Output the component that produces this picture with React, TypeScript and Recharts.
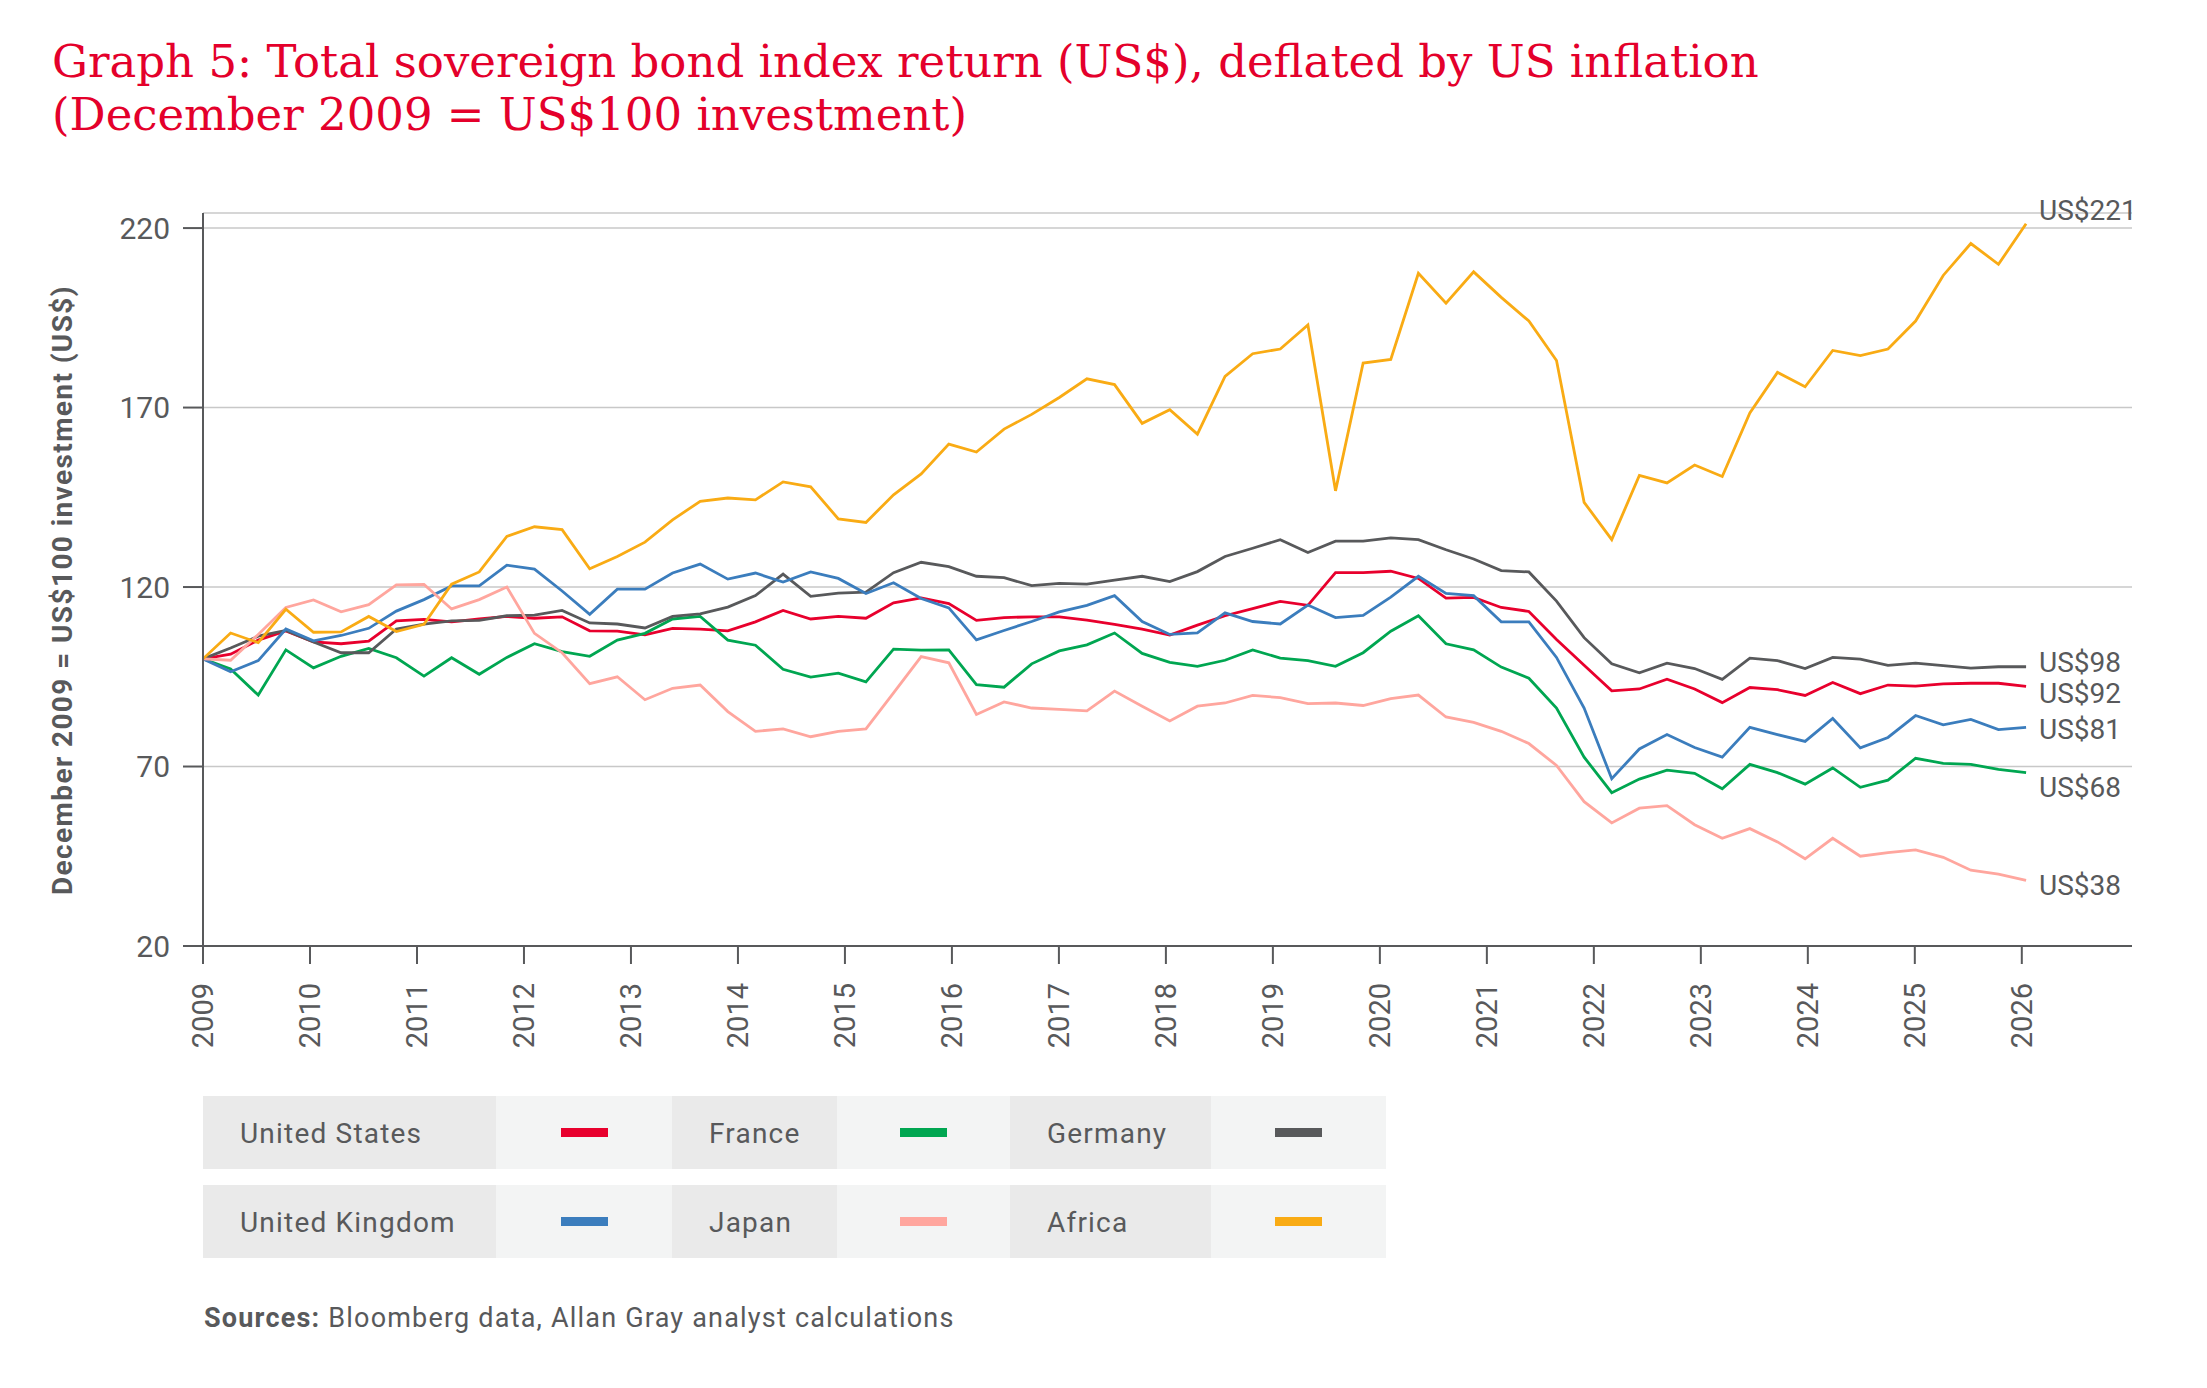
import React from 'react';
import { LineChart, Line, XAxis, YAxis, CartesianGrid } from 'recharts';

// quarterly index levels, December 2009 = 100
const unitedStates = [
  100, 101.3, 105.2, 107.8, 104.7, 104.2, 104.9, 110.6, 111.0, 110.3, 111.1, 111.8, 111.3, 111.7, 107.8, 107.7, 106.7,
  108.5, 108.3, 107.8, 110.3, 113.5, 111.1, 111.8, 111.3, 115.6, 117.0, 115.4, 110.7, 111.5, 111.7, 111.7, 110.8, 109.6,
  108.3, 106.6, 109.4, 112.0, 114.0, 116.0, 114.9, 124.0, 124.0, 124.4, 122.4, 116.9, 117.1, 114.3, 113.2, 105.4, 98.2,
  91.1, 91.6, 94.3, 91.6, 87.8, 92.0, 91.4, 89.8, 93.4, 90.3, 92.7, 92.4, 93.0, 93.2, 93.2, 92.3,
];
const france = [
  100, 97.2, 89.9, 102.5, 97.5, 100.7, 102.9, 100.3, 95.2, 100.3, 95.7, 100.4, 104.2, 102.0, 100.7, 105.2, 107.1,
  111.1, 111.8, 105.2, 103.8, 97.1, 94.9, 96.0, 93.6, 102.7, 102.4, 102.5, 92.8, 92.1, 98.6, 102.2, 103.9, 107.2,
  101.5, 99.0, 97.9, 99.6, 102.5, 100.2, 99.5, 97.9, 101.7, 107.7, 112.0, 104.2, 102.5, 97.7, 94.6, 86.3, 72.6,
  62.7, 66.5, 69.0, 68.1, 63.8, 70.6, 68.3, 65.1, 69.6, 64.2, 66.2, 72.3, 70.9, 70.6, 69.2, 68.3,
];
const germany = [
  100, 103.0, 106.3, 107.9, 104.7, 101.7, 101.7, 108.3, 109.7, 110.6, 110.7, 112.0, 112.2, 113.5, 110.0, 109.7, 108.6,
  111.8, 112.5, 114.4, 117.6, 123.6, 117.4, 118.3, 118.6, 124.0, 126.9, 125.7, 123.0, 122.6, 120.4, 121.0, 120.8, 121.9,
  123.0, 121.5, 124.3, 128.5, 130.8, 133.2, 129.6, 132.8, 132.8, 133.7, 133.2, 130.4, 127.8, 124.6, 124.2, 116.1, 105.9,
  98.6, 96.1, 98.8, 97.3, 94.3, 100.2, 99.5, 97.3, 100.4, 99.9, 98.2, 98.8, 98.1, 97.4, 97.8, 97.8,
];
const unitedKingdom = [
  100, 96.4, 99.5, 108.3, 105.0, 106.5, 108.5, 113.3, 116.5, 120.3, 120.3, 126.1, 125.0, 118.9, 112.4, 119.4, 119.4,
  123.9, 126.4, 122.2, 123.9, 121.4, 124.2, 122.4, 118.2, 121.2, 116.8, 114.2, 105.3, 107.9, 110.4, 113.1, 114.9, 117.6,
  110.4, 106.8, 107.2, 112.8, 110.4, 109.7, 115.0, 111.5, 112.1, 117.2, 123.0, 118.2, 117.6, 110.3, 110.3, 100.4, 86.3,
  66.6, 74.9, 78.9, 75.3, 72.6, 80.9, 78.9, 77.0, 83.4, 75.2, 78.1, 84.2, 81.6, 83.1, 80.3, 80.9,
];
const japan = [
  100, 99.6, 106.8, 114.3, 116.4, 113.1, 115.1, 120.6, 120.7, 113.9, 116.5, 120.0, 107.1, 101.7, 93.1, 95.0, 88.6,
  91.8, 92.7, 85.3, 79.8, 80.5, 78.3, 79.8, 80.5, 90.5, 100.6, 98.9, 84.5, 88.0, 86.3, 85.9, 85.5, 91.0,
  86.8, 82.7, 86.8, 87.7, 89.8, 89.2, 87.5, 87.7, 87.0, 88.9, 89.9, 83.8, 82.3, 79.8, 76.4, 70.3, 60.2,
  54.3, 58.4, 59.1, 53.8, 50.0, 52.7, 49.0, 44.3, 50.0, 45.0, 46.0, 46.8, 44.7, 41.1, 40.0, 38.3,
];
const africa = [
  100, 107.2, 104.5, 113.8, 107.4, 107.5, 111.8, 107.6, 109.6, 120.8, 124.2, 134.1, 136.8, 136.0, 125.1, 128.5, 132.5,
  138.7, 143.9, 144.8, 144.3, 149.3, 147.9, 139.0, 138.0, 145.7, 151.5, 159.8, 157.6, 164.0, 168.1, 172.8, 178.0, 176.4,
  165.6, 169.4, 162.6, 178.7, 185.0, 186.3, 193.0, 146.8, 182.4, 183.4, 207.4, 199.1, 207.8, 200.7, 194.1, 183.1, 143.6,
  133.2, 151.1, 149.0, 154.0, 150.8, 168.5, 179.8, 175.8, 185.9, 184.5, 186.3, 194.1, 206.8, 215.7, 209.9, 221.2,
];

const yearTicks = [2009, 2010, 2011, 2012, 2013, 2014, 2015, 2016, 2017, 2018, 2019, 2020, 2021, 2022, 2023, 2024, 2025, 2026];
const valueTicks = [20, 70, 120, 170, 220];

const START_YEAR = 2009;
const STEP = 17.04 / 66; // spacing of the points against the year ticks
const GREY = '#58595b';

const seriesList = [
  { key: 'us', name: 'United States', color: '#e8002d', values: unitedStates, labelDy: 7 },
  { key: 'fr', name: 'France', color: '#00a651', values: france, labelDy: 15 },
  { key: 'de', name: 'Germany', color: '#58595b', values: germany, labelDy: -4 },
  { key: 'uk', name: 'United Kingdom', color: '#3b7dbd', values: unitedKingdom, labelDy: 2 },
  { key: 'jp', name: 'Japan', color: '#ffa69e', values: japan, labelDy: 5 },
  { key: 'af', name: 'Africa', color: '#f9ab14', values: africa, labelDy: -13 },
];

const data = unitedStates.map((_, i) => {
  const row: Record<string, number> = { t: START_YEAR + i * STEP };
  seriesList.forEach((s) => {
    row[s.key] = s.values[i];
  });
  return row;
});

const LAST = unitedStates.length - 1;

function endLabel(dy: number) {
  return (props: any) => {
    if (props.index !== LAST) return null;
    return (
      <text x={props.x + 13} y={props.y + dy} dominantBaseline="central" fontSize={28} fill={GREY}>
        {`US$${Math.round(props.value)}`}
      </text>
    );
  };
}

const YearTick = (props: any) => {
  const { x, y, payload } = props;
  return (
    <text
      x={x}
      y={y}
      transform={`rotate(-90, ${x}, ${y})`}
      textAnchor="end"
      dominantBaseline="central"
      fontSize={29}
      fill={GREY}
    >
      {payload.value}
    </text>
  );
};

const legendRows = [seriesList.slice(0, 3), seriesList.slice(3, 6)];
const labelWidths = [293, 165, 201];
const swatchWidths = [176, 173, 175];

export default function App() {
  return (
    <div
      style={{
        position: 'absolute',
        left: 0,
        top: 0,
        width: 2207,
        height: 1388,
        background: '#fff',
        overflow: 'hidden',
        fontFamily: 'Roboto, sans-serif',
        color: GREY,
      }}
    >
      <div
        style={{
          position: 'absolute',
          left: 52,
          top: 35,
          fontFamily: '"DejaVu Serif", serif',
          fontSize: 45,
          lineHeight: '53px',
          color: '#e4002b',
          whiteSpace: 'nowrap',
        }}
      >
        Graph 5: Total sovereign bond index return (US$), deflated by US inflation
        <br />
        (December 2009 = US$100 investment)
      </div>

      <div
        style={{
          position: 'absolute',
          left: 63 - 400,
          top: 590 - 20,
          width: 800,
          height: 40,
          lineHeight: '40px',
          textAlign: 'center',
          transform: 'rotate(-90deg)',
          fontSize: 28,
          fontWeight: 700,
          letterSpacing: 1.4,
          whiteSpace: 'nowrap',
        }}
      >
        December 2009 = US$100 investment (US$)
      </div>

      <div style={{ position: 'absolute', left: 0, top: 0 }}>
        <LineChart width={2207} height={1060} data={data} margin={{ top: 213, right: 75, bottom: 0, left: 83 }}>
          <CartesianGrid vertical={false} stroke="#c8c8c8" strokeWidth={1.5} />
          <XAxis
            type="number"
            dataKey="t"
            domain={[2009, 2027.03]}
            ticks={yearTicks}
            interval={0}
            allowDataOverflow
            height={114}
            tickSize={18}
            tickMargin={19}
            axisLine={{ stroke: GREY, strokeWidth: 2 }}
            tickLine={{ stroke: GREY, strokeWidth: 2 }}
            tick={<YearTick />}
          />
          <YAxis
            type="number"
            domain={[20, 224.2]}
            ticks={valueTicks}
            interval={0}
            allowDataOverflow
            width={120}
            tickSize={20}
            tickMargin={13}
            axisLine={{ stroke: GREY, strokeWidth: 2 }}
            tickLine={{ stroke: GREY, strokeWidth: 2 }}
            tick={{ fontSize: 30, fill: GREY }}
          />
          {seriesList.map((s) => (
            <Line
              key={s.key}
              type="linear"
              dataKey={s.key}
              name={s.name}
              stroke={s.color}
              strokeWidth={2.8}
              dot={false}
              activeDot={false}
              isAnimationActive={false}
              label={endLabel(s.labelDy)}
            />
          ))}
        </LineChart>
      </div>

      {legendRows.map((row, r) => (
        <div
          key={r}
          style={{ position: 'absolute', left: 203, top: 1096 + r * 89, height: 73, display: 'flex' }}
        >
          {row.map((s, c) => (
            <React.Fragment key={s.key}>
              <div
                style={{
                  width: labelWidths[c],
                  height: 73,
                  background: '#eaeaea',
                  boxSizing: 'border-box',
                  paddingLeft: 37,
                  lineHeight: '75px',
                  fontSize: 28,
                  letterSpacing: 1.2,
                  whiteSpace: 'nowrap',
                }}
              >
                {s.name}
              </div>
              <div
                style={{
                  width: swatchWidths[c],
                  height: 73,
                  background: '#f3f4f4',
                  display: 'flex',
                  alignItems: 'center',
                  justifyContent: 'center',
                }}
              >
                <div style={{ width: 47, height: 9, background: s.color }} />
              </div>
            </React.Fragment>
          ))}
        </div>
      ))}

      <div
        style={{
          position: 'absolute',
          left: 204,
          top: 1302,
          fontSize: 27,
          letterSpacing: 1.2,
          lineHeight: '32px',
          whiteSpace: 'nowrap',
        }}
      >
        <b>Sources:</b> Bloomberg data, Allan Gray analyst calculations
      </div>
    </div>
  );
}
